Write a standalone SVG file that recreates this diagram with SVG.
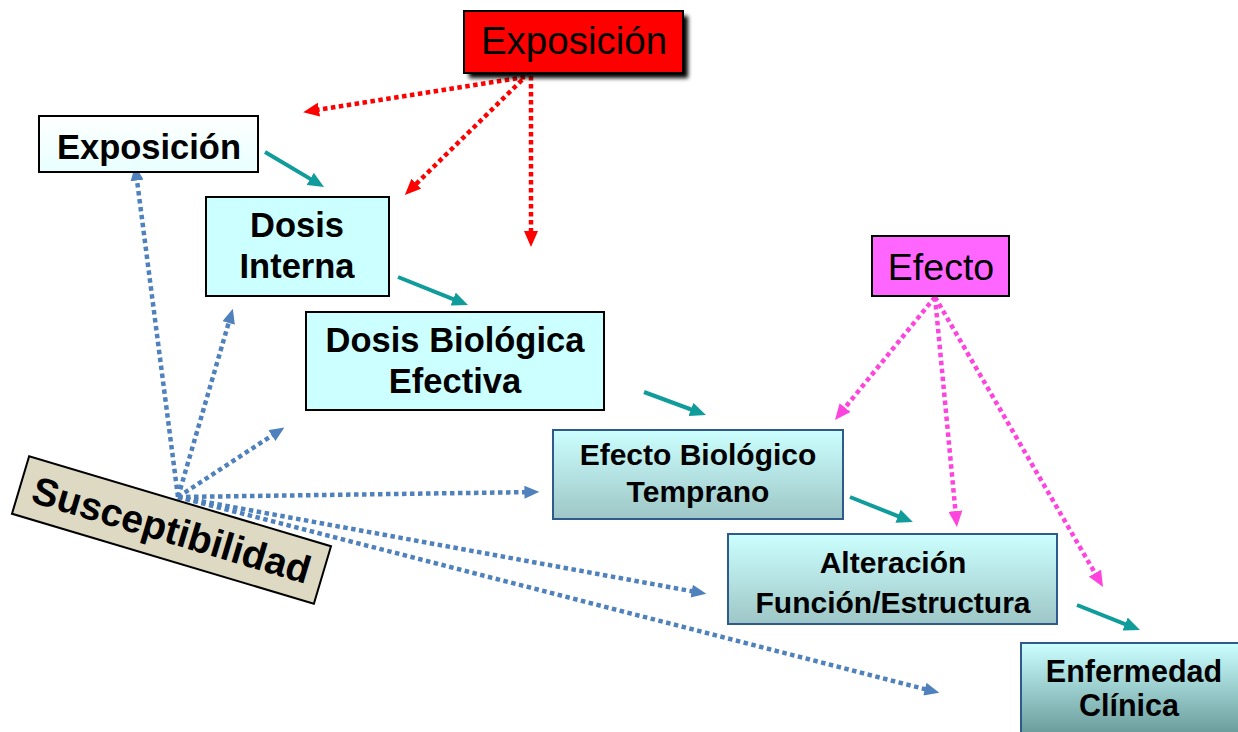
<svg xmlns="http://www.w3.org/2000/svg" width="1238" height="732" viewBox="0 0 1238 732">
<style>
.dot{fill:none;stroke-width:4.5;stroke-dasharray:4.5 3.5}
.red{stroke:#ff0000;marker-end:url(#mRed)}
.blue{stroke:#4f81bd;marker-end:url(#mBlue)}
.mag{stroke:#ff44dd;marker-end:url(#mMag)}
.teal{fill:none;stroke:#119c9c;stroke-width:4;marker-end:url(#mTeal)}
.bx{stroke:#000;stroke-width:2}
.bx2{stroke:#2f5a8c;stroke-width:2}
.tb{font-family:"Liberation Sans",Arial,sans-serif;font-weight:bold;fill:#000;text-anchor:middle}
.tn{font-family:"Liberation Sans",Arial,sans-serif;fill:#000;text-anchor:middle}
</style>
<defs>
<marker id="mRed" viewBox="0 0 16 14" markerWidth="16" markerHeight="14" refX="6" refY="7" orient="auto" markerUnits="userSpaceOnUse"><path d="M0,0 L16,7 L0,14 z" fill="#ff0000"/></marker>
<marker id="mBlue" viewBox="0 0 16 14" markerWidth="15" markerHeight="13" refX="6" refY="7" orient="auto" markerUnits="userSpaceOnUse"><path d="M0,0 L16,7 L0,14 z" fill="#4f81bd"/></marker>
<marker id="mMag" viewBox="0 0 16 14" markerWidth="16" markerHeight="14" refX="6" refY="7" orient="auto" markerUnits="userSpaceOnUse"><path d="M0,0 L16,7 L0,14 z" fill="#ff44dd"/></marker>
<marker id="mTeal" viewBox="0 0 16 14" markerWidth="16" markerHeight="14" refX="6" refY="7" orient="auto" markerUnits="userSpaceOnUse"><path d="M0,0 L16,7 L0,14 z" fill="#119c9c"/></marker>
<linearGradient id="gCyan" x1="0" y1="0" x2="0" y2="1"><stop offset="0" stop-color="#ccffff"/><stop offset="1" stop-color="#9ec6c6"/></linearGradient>
<linearGradient id="gDark" x1="0" y1="0" x2="0" y2="1"><stop offset="0" stop-color="#ccffff"/><stop offset="1" stop-color="#4a7c7c"/></linearGradient>
<linearGradient id="gLight" x1="0" y1="0" x2="0" y2="1"><stop offset="0" stop-color="#ffffff"/><stop offset="1" stop-color="#e8ffff"/></linearGradient>
<filter id="shadow" x="-10%" y="-20%" width="120%" height="150%"><feGaussianBlur stdDeviation="2"/></filter>
</defs>

<g id="connectors">
<line class="dot red" x1="525" y1="77" x2="313" y2="110.6"/>
<line class="dot red" x1="522" y1="80" x2="412" y2="188"/>
<line class="dot red" x1="531" y1="76" x2="531" y2="237"/>
<line class="dot blue" x1="178" y1="497" x2="136.3" y2="174.9"/>
<line class="dot blue" x1="178" y1="497" x2="230.2" y2="317.6"/>
<line class="dot blue" x1="178" y1="497" x2="276.6" y2="432.5"/>
<line class="dot blue" x1="178" y1="497" x2="530" y2="492.1"/>
<line class="dot blue" x1="178" y1="497" x2="697.2" y2="592.2"/>
<line class="dot blue" x1="178" y1="497" x2="930.3" y2="690.5"/>
<line class="dot mag" x1="935" y1="297" x2="841.3" y2="412.2"/>
<line class="dot mag" x1="935" y1="297" x2="956" y2="517"/>
<line class="dot mag" x1="935" y1="297" x2="1098" y2="578.3"/>
<line class="teal" x1="265" y1="152" x2="315.4" y2="181.9"/>
<line class="teal" x1="398" y1="277" x2="458.7" y2="301.3"/>
<line class="teal" x1="644" y1="392" x2="696.6" y2="411.5"/>
<line class="teal" x1="850" y1="497" x2="903.6" y2="518.4"/>
<line class="teal" x1="1077" y1="605" x2="1130.7" y2="626.3"/>
</g>

<g id="exposicion-top">
<rect x="469" y="16" width="219" height="62" fill="#000" filter="url(#shadow)"/>
<rect x="464" y="11" width="219" height="62" fill="#ff0000" class="bx"/>
<text class="tn" x="574" y="54" font-size="38.5">Exposición</text>
</g>

<g id="exposicion">
<rect x="39" y="116" width="219" height="56" fill="url(#gLight)" class="bx"/>
<text class="tb" x="149" y="159" font-size="34.5">Exposición</text>
</g>

<g id="dosis-interna">
<rect x="206" y="197" width="183" height="99" fill="#ccffff" class="bx"/>
<text class="tb" x="297" y="237" font-size="34.5">Dosis</text>
<text class="tb" x="297" y="278" font-size="34.5">Interna</text>
</g>

<g id="dosis-biologica">
<rect x="306" y="312" width="298" height="98" fill="#ccffff" class="bx"/>
<text class="tb" x="455" y="352" font-size="34.5">Dosis Biológica</text>
<text class="tb" x="455" y="393" font-size="34.5">Efectiva</text>
</g>

<g id="efecto-biologico">
<rect x="553" y="430" width="290" height="89" fill="url(#gCyan)" class="bx2"/>
<text class="tb" x="698" y="465" font-size="30">Efecto Biológico</text>
<text class="tb" x="698" y="502" font-size="30">Temprano</text>
</g>

<g id="alteracion">
<rect x="728" y="534" width="329" height="90" fill="url(#gCyan)" class="bx2"/>
<text class="tb" x="893" y="573" font-size="30">Alteración</text>
<text class="tb" x="893" y="613" font-size="30">Función/Estructura</text>
</g>

<g id="enfermedad">
<rect x="1021" y="643" width="230" height="120" fill="url(#gDark)" class="bx2"/>
<text class="tb" x="1134" y="682" font-size="30.5">Enfermedad</text>
<text class="tb" x="1129" y="716" font-size="30.5">Clínica</text>
</g>

<g id="efecto">
<rect x="872" y="236" width="137" height="60" fill="#ff66ff" class="bx"/>
<text class="tn" x="941" y="280" font-size="37.5">Efecto</text>
</g>

<g id="susceptibilidad" transform="translate(171.5,530) rotate(16.6)">
<rect x="-157.5" y="-30" width="315" height="60" fill="#ddd9c3" class="bx"/>
<text class="tb" x="0" y="13.5" font-size="39">Susceptibilidad</text>
</g>
</svg>
